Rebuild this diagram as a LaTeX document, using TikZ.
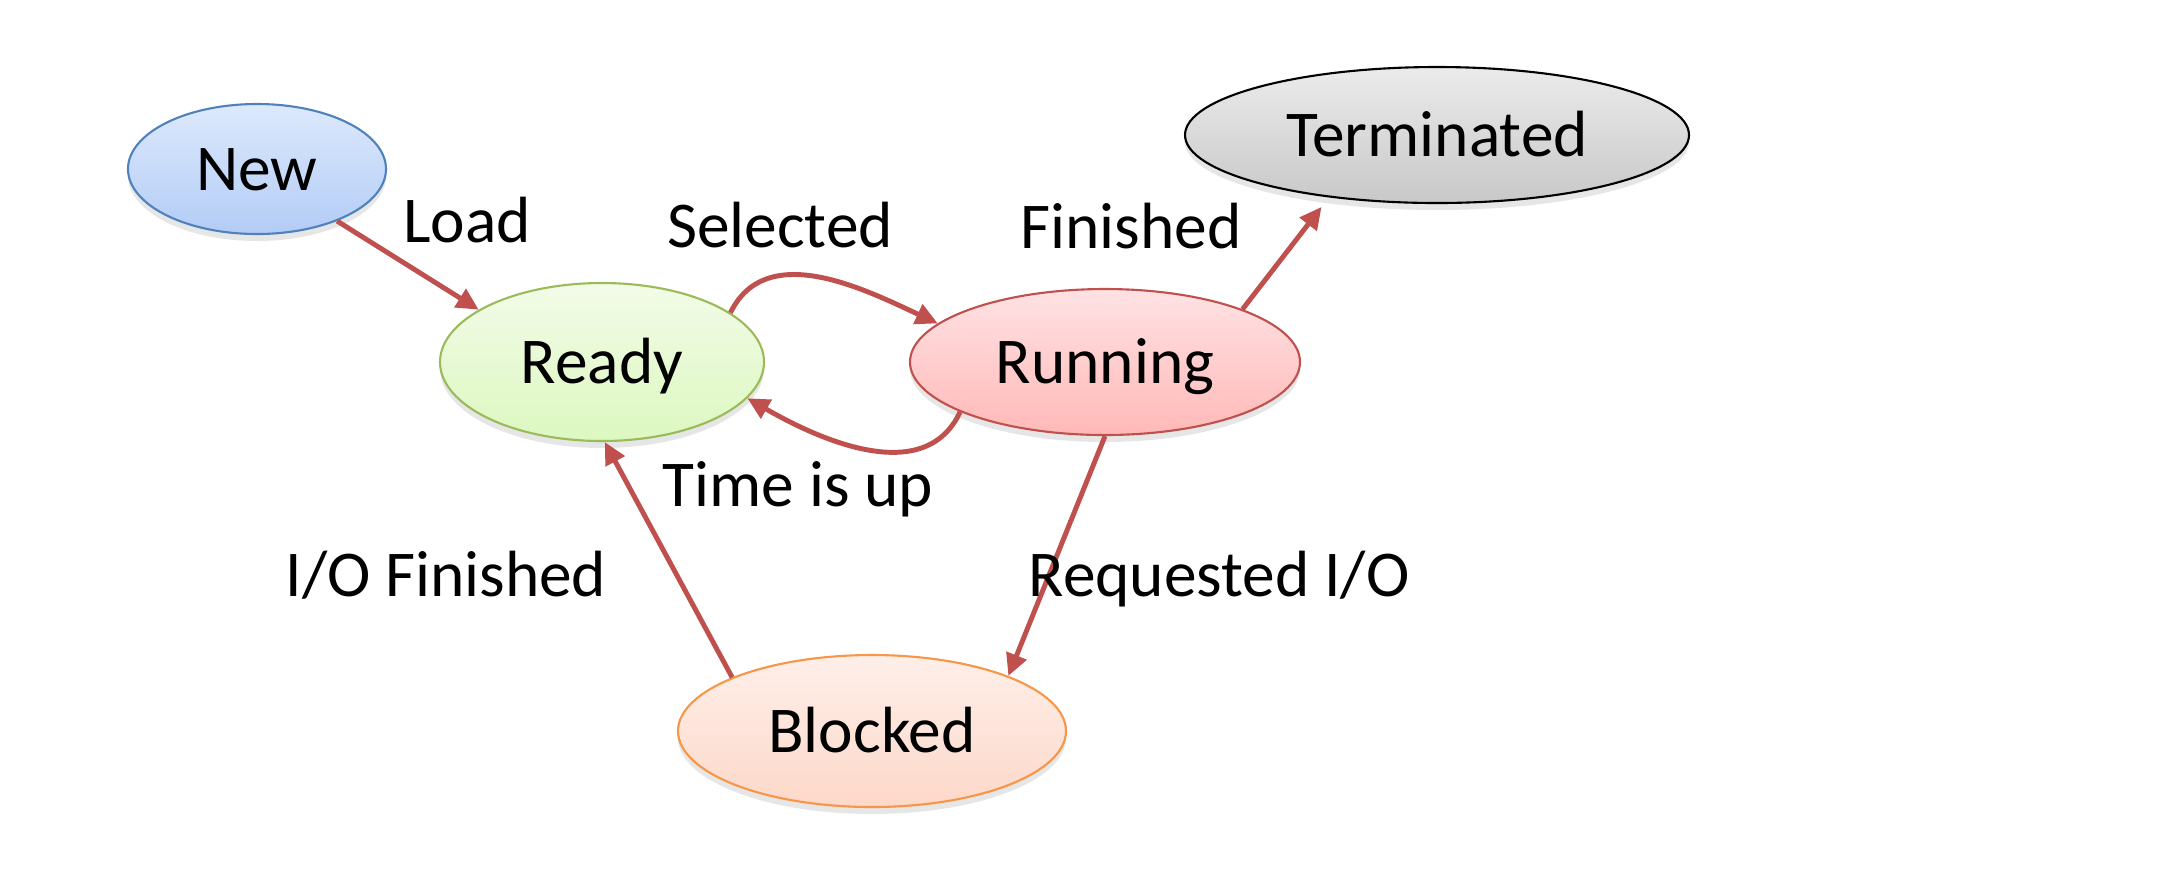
\documentclass[tikz,border=0pt]{standalone}
\usepackage{fontspec}
\setmainfont{Carlito}
\usetikzlibrary{shapes.geometric,arrows.meta,shadows}
\definecolor{arrowred}{HTML}{C0504D}
\definecolor{newline}{HTML}{4F81BD}
\definecolor{newtop}{HTML}{DDE9FC}
\definecolor{newbot}{HTML}{B3CCF6}
\definecolor{readyline}{HTML}{9BBB59}
\definecolor{readytop}{HTML}{F3FBE8}
\definecolor{readybot}{HTML}{DCF8C0}
\definecolor{runline}{HTML}{C0504D}
\definecolor{runtop}{HTML}{FFE2E4}
\definecolor{runbot}{HTML}{FFB9B7}
\definecolor{termtop}{HTML}{EBEBEB}
\definecolor{termbot}{HTML}{C8C8C8}
\definecolor{blockline}{HTML}{F79646}
\definecolor{blocktop}{HTML}{FEEFE9}
\definecolor{blockbot}{HTML}{FDD8C9}
\begin{document}
\begin{tikzpicture}[every node/.style={font=\fontsize{18.6}{22}\selectfont},
    state/.style={ellipse,draw,line width=0.6pt,inner sep=0pt,text height=0.43cm,text depth=0cm,
      drop shadow={shadow xshift=0pt,shadow yshift=-0.07cm,opacity=0.2}},
    move/.style={draw=arrowred,line width=1.4pt,-{Triangle[length=0.22cm,width=0.21cm]}}]
  \useasboundingbox (0,0) rectangle (21.8,-8.68);
  % states
  \node[state,draw=newline,top color=newtop,bottom color=newbot,minimum width=2.58cm,minimum height=1.30cm] (new) at (2.57,-1.69) {New};
  \node[state,draw=readyline,top color=readytop,bottom color=readybot,minimum width=3.24cm,minimum height=1.58cm] (ready) at (6.02,-3.62) {Ready};
  \node[state,draw=runline,top color=runtop,bottom color=runbot,minimum width=3.90cm,minimum height=1.46cm] (running) at (11.05,-3.62) {Running};
  \node[state,draw=black,top color=termtop,bottom color=termbot,minimum width=5.04cm,minimum height=1.36cm] (term) at (14.37,-1.35) {Terminated};
  \node[state,draw=blockline,top color=blocktop,bottom color=blockbot,minimum width=3.88cm,minimum height=1.52cm] (blocked) at (8.72,-7.31) {Blocked};
  % transitions
  \draw[move] (new.-33) -- (ready.157);
  \draw[move] (ready.21) to[out=64,in=155] (running.167);
  \draw[move] (running.199) to[out=-115,in=-30] (ready.-14);
  \draw[move,shorten >=0.12cm] (running.21) -- (term.210);
  \draw[move] (running.-90) -- (blocked.22);
  \draw[move] (blocked.159) -- (ready.-88);
  % labels
  \node[anchor=base] (load) at (4.67,-2.42) {Load};
  \node[anchor=base] (selected) at (7.80,-2.47) {Selected};
  \node[anchor=base] (finished) at (11.31,-2.48) {Finished};
  \node[anchor=base] (timeup) at (7.98,-5.06) {Time is up};
  \node[anchor=base] (iodone) at (4.46,-5.96) {I/O Finished};
  \node[anchor=base] (ioreq) at (12.19,-5.96) {Requested I/O};
\end{tikzpicture}
\end{document}
